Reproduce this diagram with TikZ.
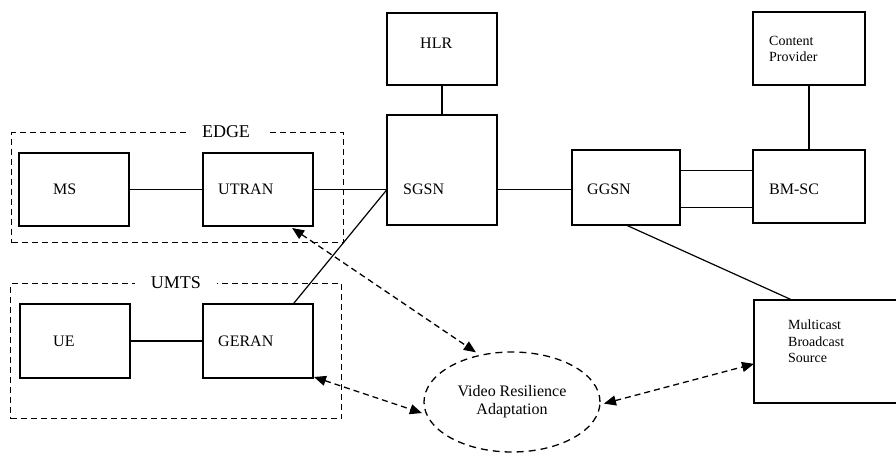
\documentclass[tikz,border=0pt]{standalone}
\usepackage{fontspec}
\setmainfont{Liberation Serif}
\usetikzlibrary{arrows.meta,shapes.geometric,calc}
\begin{document}
\begin{tikzpicture}[x=1pt,y=-1pt,
  box/.style={draw, line width=1.3pt, inner sep=0pt, outer sep=0pt, anchor=north west},
  lbl/.style={font=\fontsize{16}{18}\selectfont, inner sep=0pt, anchor=west},
  slbl/.style={font=\fontsize{14}{16}\selectfont, inner sep=0pt, anchor=west, align=left},
  frame/.style={draw, line width=1.3pt, dash pattern=on 6pt off 4pt, inner sep=0pt, anchor=north west},
  grp/.style={font=\fontsize{18}{20}\selectfont, fill=white, inner xsep=16pt, inner ysep=2pt},
  conn/.style={line width=1.2pt},
  tip/.tip={Triangle[length=12pt,width=10pt]},
  dconn/.style={line width=1.3pt, dash pattern=on 6pt off 4pt, tip-tip},
]
\useasboundingbox (0,0) rectangle (896,455);
% group frames
\node[frame, minimum width=332pt, minimum height=110pt] (edge) at (11,132) {};
\node[grp] (edgel) at (226,132) {EDGE};
\node[frame, minimum width=331pt, minimum height=135pt] (umts) at (10,283) {};
\node[grp] (umtsl) at (176,283) {UMTS};
% boxes
\node[box, minimum width=110pt, minimum height=73pt] (ms) at (19,153) {};
\node[lbl] (msl) at (53,189.5) {MS};
\node[box, minimum width=110pt, minimum height=73pt] (utran) at (203,153) {};
\node[lbl] (utranl) at (218,189.5) {UTRAN};
\node[box, minimum width=110pt, minimum height=74pt] (ue) at (20,304) {};
\node[lbl] (uel) at (53,341) {UE};
\node[box, minimum width=110pt, minimum height=74pt] (geran) at (203,304) {};
\node[lbl] (geranl) at (218,341) {GERAN};
\node[box, minimum width=110pt, minimum height=72pt] (hlr) at (387,13) {};
\node[lbl] (hlrl) at (420,43) {HLR};
\node[box, minimum width=110pt, minimum height=110pt] (sgsn) at (387,115) {};
\node[lbl] (sgsnl) at (403,189.5) {SGSN};
\node[box, minimum width=108pt, minimum height=75pt] (ggsn) at (572,150) {};
\node[lbl] (ggsnl) at (587,189.5) {GGSN};
\node[box, minimum width=112pt, minimum height=73pt] (bmsc) at (753,150) {};
\node[lbl] (bmscl) at (769,189.5) {BM-SC};
\node[box, minimum width=112pt, minimum height=73pt] (cp) at (753,12) {};
\node[slbl] (cpl) at (769,48.5) {Content\\Provider};
\node[box, minimum width=150pt, minimum height=103pt] (mbs) at (754,300) {};
\node[slbl, font=\fontsize{14}{16.5}\selectfont] (mbsl) at (788,341.5) {Multicast\\Broadcast\\Source};
\node[ellipse, draw, line width=1.3pt, dash pattern=on 7pt off 5pt, minimum width=176pt, minimum height=100pt,
      inner sep=0pt, outer sep=4pt, align=center, font=\fontsize{16}{18}\selectfont] (vra) at (512,402)
      {Video Resilience\\Adaptation};
% solid connectors
\draw[conn] (ms.east) -- (utran.west);
\draw[conn] (ue.east) -- (geran.west);
\draw[conn] (utran.east) -- (utran.east -| sgsn.west);
\draw[conn] ($(geran.north west)!0.82!(geran.north east)$) -- (sgsn.west |- utran.east);
\draw[conn] (utran.east -| sgsn.east) -- (utran.east -| ggsn.west);
\draw[conn] (hlr.south) -- (sgsn.north);
\draw[conn] (cp.south) -- (bmsc.north);
\coordinate (g1) at ($(ggsn.north east)!0.27!(ggsn.south east)$);
\coordinate (g2) at ($(ggsn.north east)!0.77!(ggsn.south east)$);
\draw[conn] (g1) -- (g1 -| bmsc.west);
\draw[conn] (g2) -- (g2 -| bmsc.west);
\draw[conn] ($(ggsn.south west)!0.5!(ggsn.south east)$) -- ($(mbs.north west)+(38,0)$);
% dashed double arrows
\draw[dconn] ($(utran.south west)!0.81!(utran.south east)+(0,2)$) -- (vra.126);
\draw[dconn] ($(geran.south east)+(1,-1)$) -- (vra.187);
\draw[dconn] (vra.359) -- ($(mbs.north west)!0.62!(mbs.south west)$);
\end{tikzpicture}
\end{document}
